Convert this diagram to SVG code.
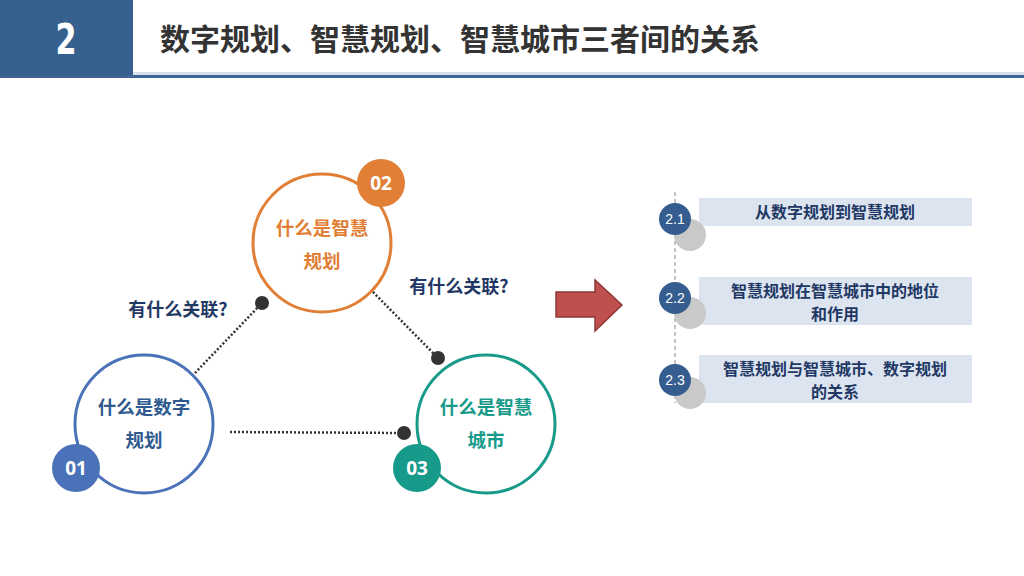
<svg xmlns="http://www.w3.org/2000/svg" width="1024" height="576" viewBox="0 0 1024 576">
<defs>
<style>
.t{font-family:"Noto Sans CJK SC","Liberation Sans",sans-serif;font-weight:bold;text-anchor:middle}
.ring{fill:#fff;stroke-width:3}
.badge{font-family:"Open Sans","Liberation Sans",sans-serif;font-weight:bold;font-size:19px;fill:#fff;text-anchor:middle}
.dot{fill:#333}
.dl{stroke:#333;stroke-width:2.5;stroke-dasharray:2 2;fill:none}
.box{fill:#dce4f0}
.num{fill:#355d8f}
.sh{fill:#c9c9c9}
.nt{font-family:"Liberation Sans",sans-serif;font-size:14px;fill:#fff;text-anchor:middle}
.it{font-size:16px;fill:#1f3864}
.ct{font-size:18.5px}
.q{font-size:18px;fill:#1f3864}
</style>
</defs>
<rect width="1024" height="576" fill="#fff"/>
<g id="header">
<rect x="0" y="0" width="133" height="76" fill="#36618f"/>
<rect x="133" y="72" width="891" height="3" fill="#d9dfe8"/>
<rect x="0" y="75" width="1024" height="3" fill="#3d6495"/>
<text x="66" y="54" font-family="'DejaVu Sans Condensed','Liberation Sans Narrow','Liberation Sans',sans-serif" font-weight="bold" font-size="42" fill="#fff" text-anchor="middle" transform="translate(66 0) scale(0.8 1) translate(-66 0)">2</text>
<text x="160" y="50" font-family="'Noto Sans CJK SC',sans-serif" font-weight="bold" font-size="30" fill="#333">数字规划、智慧规划、智慧城市三者间的关系</text>
</g>
<g id="connectors">
<line class="dl" x1="195" y1="373" x2="262" y2="303"/>
<line class="dl" x1="373" y1="292" x2="438" y2="358"/>
<line class="dl" x1="230" y1="432" x2="404" y2="433"/>
<circle class="dot" cx="262" cy="303" r="7"/>
<circle class="dot" cx="438" cy="358" r="7"/>
<circle class="dot" cx="404" cy="433" r="7"/>
</g>
<g id="label1"><text class="t q" x="178" y="316">有什么关联?</text></g>
<g id="label2"><text class="t q" x="459" y="293">有什么关联?</text></g>
<g id="node01">
<circle class="ring" cx="144" cy="424" r="69" stroke="#4a72b8"/>
<text class="t ct" x="144" y="414" fill="#2f5a8f">什么是数字</text>
<text class="t ct" x="144" y="447" fill="#2f5a8f">规划</text>
<circle cx="76" cy="468" r="24" fill="#4a72b8"/>
<text class="badge" x="76" y="475">01</text>
</g>
<g id="node02">
<circle class="ring" cx="322" cy="243" r="69" stroke="#e07f35"/>
<text class="t ct" x="322" y="235" fill="#e07f35">什么是智慧</text>
<text class="t ct" x="322" y="268" fill="#e07f35">规划</text>
<circle cx="381" cy="183" r="24" fill="#e07f35"/>
<text class="badge" x="381" y="190">02</text>
</g>
<g id="node03">
<circle class="ring" cx="486" cy="424" r="69" stroke="#179a8a"/>
<text class="t ct" x="486" y="414" fill="#179a8a">什么是智慧</text>
<text class="t ct" x="486" y="447" fill="#179a8a">城市</text>
<circle cx="417" cy="468" r="24" fill="#179a8a"/>
<text class="badge" x="417" y="475">03</text>
</g>
<g id="arrow">
<polygon points="556,292 595,292 595,280 622,305 595,331 595,317 556,317" fill="#c0504d" stroke="#8c3836" stroke-width="1.5"/>
</g>
<g id="list">
<line x1="675" y1="192" x2="675" y2="403" stroke="#888" stroke-width="1" stroke-dasharray="4 3"/>
<g id="item21">
<rect class="box" x="699" y="198" width="273" height="28"/>
<circle class="sh" cx="690" cy="235" r="16"/>
<circle class="num" cx="675" cy="219" r="16"/>
<text class="nt" x="675" y="224">2.1</text>
<text class="t it" x="835" y="218">从数字规划到智慧规划</text>
</g>
<g id="item22">
<rect class="box" x="699" y="277" width="273" height="48"/>
<circle class="sh" cx="690" cy="313" r="16"/>
<circle class="num" cx="675" cy="298" r="16"/>
<text class="nt" x="675" y="303">2.2</text>
<text class="t it" x="835" y="297">智慧规划在智慧城市中的地位</text>
<text class="t it" x="835" y="320">和作用</text>
</g>
<g id="item23">
<rect class="box" x="699" y="355" width="273" height="48"/>
<circle class="sh" cx="690" cy="393" r="16"/>
<circle class="num" cx="675" cy="380" r="16"/>
<text class="nt" x="675" y="385">2.3</text>
<text class="t it" x="835" y="375">智慧规划与智慧城市、数字规划</text>
<text class="t it" x="835" y="398">的关系</text>
</g>
</g>
</svg>
